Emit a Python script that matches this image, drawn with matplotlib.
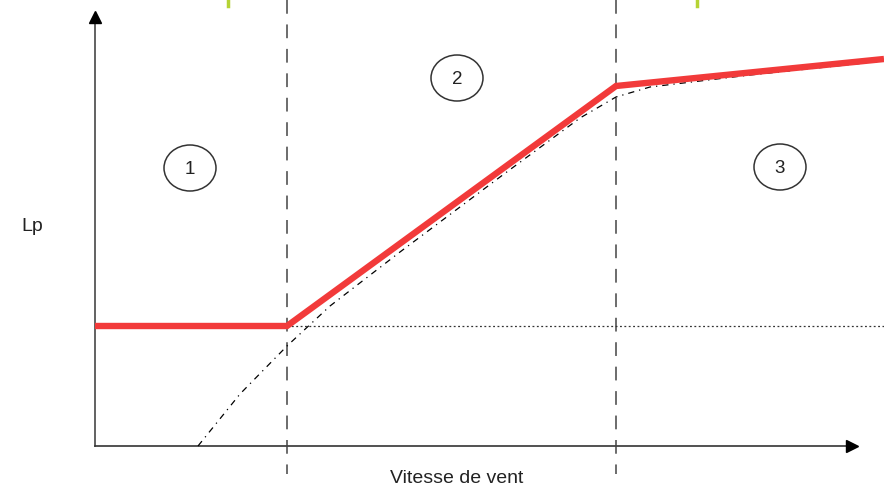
import matplotlib.pyplot as plt
from matplotlib.patches import Ellipse

# coordinates in image-like units (x right, y down)
x_axis_y = 446
y_axis_x = 95
region_bounds = [287, 616]

# red piecewise curve
red_x = [95, 287, 616, 884]
red_y = [326, 326, 86, 59]

# dash-dot theoretical curve
curve_x = [198, 240, 287, 330, 400, 500, 580, 616, 650, 750, 884]
curve_y = [446, 394, 346, 306, 252, 177, 118, 97, 87, 75, 61]

# regions
region_labels = ['1', '2', '3']
region_x = [190, 457, 780]
region_y = [168, 78, 167]

top_marks_x = [228, 697]

fig = plt.figure(figsize=(8.84, 4.86), dpi=100)
ax = fig.add_axes([0, 0, 1, 1])
ax.set_xlim(0, 884)
ax.set_ylim(486, 0)
ax.axis('off')

# axes with arrows
ax.plot([y_axis_x, y_axis_x], [x_axis_y, 22], color='#555555', lw=1.3)
ax.plot([y_axis_x, 848], [x_axis_y, x_axis_y], color='#333333', lw=1.2)
ax.plot([y_axis_x], [17], marker='^', color='black', markersize=8)
ax.plot([852], [x_axis_y], marker='>', color='black', markersize=8)

# vertical dashed boundaries
for xb in region_bounds:
    ax.plot([xb, xb], [0, 474], color='#444444', lw=1.1, linestyle=(0, (9, 7)))

# horizontal dotted line
ax.plot([287, 884], [326, 326], color='#333333', lw=0.9, linestyle=(0, (1.5, 2)))

# dash-dot curve
ax.plot(curve_x, curve_y, color='black', lw=0.9, linestyle=(0, (5, 4, 1, 4)))

# red line
ax.plot(red_x, red_y, color='#f23a3a', lw=4.6, solid_joinstyle='miter', solid_capstyle='butt')

# circled numbers
for lab, cx, cy in zip(region_labels, region_x, region_y):
    ax.add_patch(Ellipse((cx, cy), 52, 46, fill=False, ec='#333333', lw=1.1))
    ax.text(cx, cy + 1, lab, ha='center', va='center', fontsize=13.5,
            family='Liberation Sans', color='#222222')

# small marks at the top
for xm in top_marks_x:
    ax.plot([xm, xm], [0, 6], color='#b5d334', lw=2.5)

ax.text(32, 226, 'Lp', ha='center', va='center', fontsize=14,
        family='Liberation Sans', color='#222222')
ax.text(457, 478, 'Vitesse de vent', ha='center', va='center', fontsize=14,
        family='Liberation Sans', color='#222222')

fig.savefig('out.png', dpi=100)
